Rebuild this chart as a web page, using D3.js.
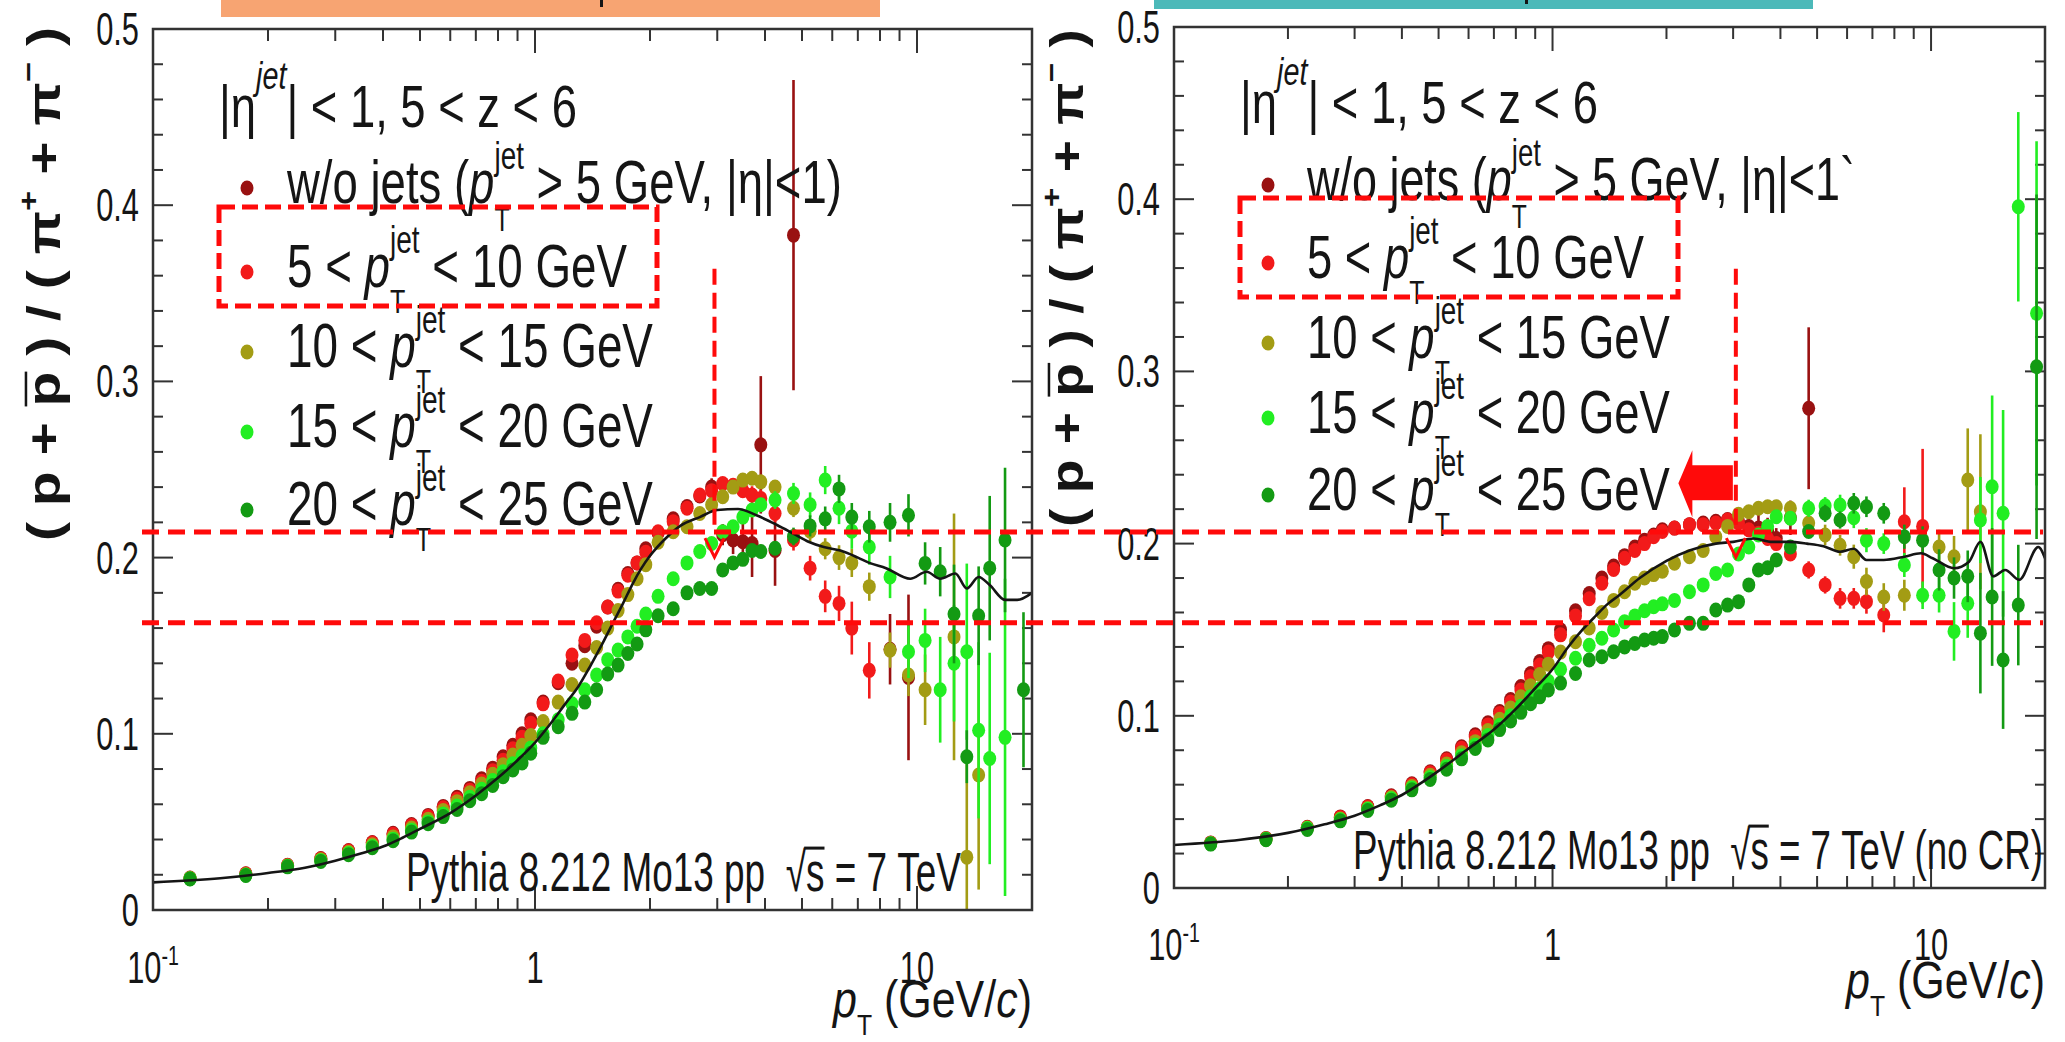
<!DOCTYPE html>
<html>
<head>
<meta charset="utf-8">
<script src="https://cdn.jsdelivr.net/npm/d3@7"></script>
<style>
  html, body { margin: 0; padding: 0; background: #fff; }
  svg { display: block; }
</style>
</head>
<body>
<svg id="chart" width="2065" height="1042"></svg>
<script>
// ---------------------------------------------------------------------------
// Proton-to-pion ratio (p + pbar)/(pi+ + pi-) vs pT, in jets, PYTHIA 8.212
// Left: Monash 2013 tune; right: same tune without colour reconnection.
// ---------------------------------------------------------------------------

// pT bin centres (GeV/c), shared by every series
const pT = [0.125,0.175,0.225,0.275,0.325,0.375,0.425,0.475,0.525,0.575,0.625,0.675,0.725,0.775,0.825,0.875,0.925,0.975,
  1.05,1.15,1.25,1.35,1.45,1.55,1.65,1.75,1.85,1.95,
  2.1,2.3,2.5,2.7,2.9,3.1,3.3,3.5,3.7,3.9,
  4.25,4.75,5.25,5.75,6.25,6.75,
  7.5,8.5,9.5,10.5,11.5,12.5,13.5,14.5,15.5,
  17,19];

// ---- Left panel (Mo13) ----
const leftWoJets = [0.0181,0.0206,0.0254,0.0292,0.0338,0.0383,0.0435,0.0485,0.0537,0.0588,0.064,0.069,0.0745,0.0805,0.087,0.0935,0.1,0.108,
  0.118,0.129,0.14,0.15,0.161,0.172,0.182,0.191,0.197,0.205,
  0.214,0.222,0.229,0.235,0.24,0.213,0.21,0.209,0.208,0.264,
  0.204,0.383,null,null,null,null,
  null,0.148,0.132,null,null,null,null,null,null,
  null,null];
const leftWoJetsErr = [0,0,0,0,0,0,0,0,0,0,0,0,0,0,0,0,0,0,
  0,0,0,0,0,0,0,0,0,0,
  0.003,0.003,0.004,0.004,0.005,0.006,0.008,0.012,0.019,0.039,
  0.02,0.088,0,0,0,0,
  0,0.02,0.047,0,0,0,0,0,0,
  0,0];

const leftJet5 = [0.018,0.0205,0.0252,0.029,0.0335,0.038,0.043,0.048,0.053,0.058,0.063,0.068,0.073,0.079,0.085,0.0915,0.098,0.106,
  0.117,0.13,0.1447,0.153,0.163,0.172,0.181,0.19,0.197,0.203,
  0.2147,0.2204,0.228,0.2355,0.238,0.242,0.241,0.238,0.2355,0.2336,
  0.225,0.21,0.194,0.178,0.174,0.16,
  0.136,null,null,null,null,null,null,null,null,
  null,null];
const leftJet5Err = [0,0,0,0,0,0,0,0,0,0,0,0,0,0,0,0,0,0,
  0,0,0,0,0,0,0,0,0,0,
  0.002,0.003,0.003,0.003,0.003,0.004,0.004,0.004,0.005,0.005,
  0.005,0.006,0.007,0.009,0.01,0.015,
  0.016,0,0,0,0,0,0,0,0,
  0,0];

const leftJet10 = [0.0179,0.02,0.025,0.0285,0.0328,0.037,0.0415,0.0465,0.0515,0.0565,0.0615,0.0665,0.0715,0.077,0.0825,0.088,0.0935,0.099,
  0.107,0.118,0.128,0.139,0.149,0.16,0.17,0.179,0.188,0.196,
  0.2087,0.2147,0.2175,0.225,0.23,0.2345,0.24,0.244,0.245,0.243,
  0.24,0.228,0.215,0.205,0.2,0.197,
  0.1835,0.1475,0.1334,0.125,null,0.155,0.03,0.0766,null,
  null,null];
const leftJet10Err = [0,0,0,0,0,0,0,0,0,0,0,0,0,0,0,0,0,0,
  0,0,0,0,0,0,0,0,0,0,
  0.002,0.002,0.003,0.003,0.003,0.003,0.004,0.004,0.004,0.004,
  0.004,0.005,0.006,0.006,0.007,0.008,
  0.008,0.01,0.012,0.02,0,0.07,0.06,0.065,0,
  0,0];

const leftJet15 = [0.0178,0.0198,0.0248,0.028,0.032,0.036,0.0402,0.0452,0.05,0.0545,0.059,0.064,0.0685,0.0735,0.0785,0.083,0.0875,0.092,
  0.1,0.108,0.117,0.125,0.1334,0.142,0.1475,0.155,0.161,0.168,
  0.178,0.188,0.197,0.2035,0.208,0.2147,0.2175,0.223,0.227,0.23,
  0.2327,0.2364,0.23,0.244,0.228,0.215,
  0.206,0.189,0.1466,0.153,0.125,0.14,0.1466,0.102,0.086,
  0.098,null];
const leftJet15Err = [0,0,0,0,0,0,0,0,0,0,0,0,0,0,0,0,0,0,
  0,0,0,0,0,0,0,0,0,0,
  0.003,0.003,0.003,0.003,0.003,0.003,0.003,0.003,0.004,0.004,
  0.005,0.006,0.007,0.008,0.009,0.01,
  0.01,0.012,0.015,0.018,0.03,0.033,0.05,0.05,0.06,
  0.09,0];

const leftJet20 = [0.0176,0.0196,0.0245,0.0275,0.0314,0.0353,0.0393,0.0442,0.049,0.053,0.057,0.062,0.066,0.0707,0.0756,0.0795,0.0834,0.089,
  0.098,0.104,0.1116,0.118,0.125,0.134,0.139,0.1456,0.151,0.159,
  0.167,0.171,0.18,0.1825,0.1825,0.193,0.197,0.199,0.204,0.2035,
  0.2053,0.212,0.218,0.222,0.239,0.223,
  0.2175,0.22,0.224,0.1967,0.192,0.168,0.087,0.167,0.194,
  0.21,0.125];
const leftJet20Err = [0,0,0,0,0,0,0,0,0,0,0,0,0,0,0,0,0,0,
  0,0,0,0,0,0,0,0,0,0,
  0.003,0.003,0.003,0.003,0.003,0.003,0.003,0.003,0.003,0.003,
  0.004,0.005,0.006,0.007,0.008,0.008,
  0.009,0.011,0.012,0.012,0.014,0.028,0.015,0.028,0.041,
  0.041,0.044];

// inclusive reference curve, left panel
const leftCurvePt = [0.1,0.15,0.2,0.25,0.3,0.35,0.4,0.45,0.5,
  0.6,0.7,0.8,0.9,1.0,1.1,1.2,1.3,1.4,1.5,1.6,1.7,1.8,1.9,2.0,
  2.2,2.4,2.7,3.0,3.4,3.8,4.3,4.8,5.2,5.7,6.3,7.0,7.5,8.3,9.6,10.6,11.5,12.6,13.5,14.5,15.5,17,18.3,20];
const leftCurveVal = [0.0157,0.018,0.021,0.024,0.028,0.032,0.036,0.041,0.046,
  0.055,0.065,0.075,0.085,0.095,0.106,0.117,0.127,0.139,0.151,0.163,0.174,0.185,0.194,0.201,
  0.211,0.218,0.223,0.227,0.2276,0.224,0.2185,0.213,0.209,0.206,0.204,0.2,0.197,0.194,0.188,0.192,0.188,0.191,0.1825,0.189,0.1844,0.176,0.176,0.18];

// ---- Right panel (Mo13, no CR) ----
const rightWoJets = [0.0262,0.0288,0.0353,0.0413,0.0473,0.0535,0.0605,0.0675,0.075,0.082,0.089,0.096,0.1025,0.1095,0.117,0.1245,0.1315,0.139,
  0.15,0.161,0.171,0.18,0.187,0.193,0.198,0.202,0.205,0.208,
  0.209,0.211,0.212,0.213,0.214,0.213,0.21,0.209,0.207,0.203,
  0.215,0.2786,null,null,null,null,
  null,null,null,null,null,null,null,null,null,
  null,null];
const rightWoJetsErr = [0,0,0,0,0,0,0,0,0,0,0,0,0,0,0,0,0,0,
  0,0,0,0,0,0,0,0,0,0,
  0.002,0.002,0.003,0.003,0.004,0.004,0.005,0.008,0.008,0.006,
  0.01,0.047,0,0,0,0,
  0,0,0,0,0,0,0,0,0,
  0,0];

const rightJet5 = [0.026,0.0285,0.035,0.041,0.047,0.053,0.06,0.067,0.0743,0.0811,0.0879,0.0947,0.1014,0.108,0.115,0.1227,0.1295,0.137,
  0.147,0.158,0.168,0.177,0.185,0.1915,0.196,0.2,0.204,0.207,
  0.209,0.211,0.211,0.212,0.2137,0.212,0.208,0.206,0.203,0.2,
  0.194,0.1847,0.176,0.1682,0.1682,0.1663,
  0.1585,0.2127,0.21,null,null,null,null,null,null,
  null,null];
const rightJet5Err = [0,0,0,0,0,0,0,0,0,0,0,0,0,0,0,0,0,0,
  0,0,0,0,0,0,0,0,0,0,
  0.002,0.002,0.003,0.003,0.003,0.003,0.004,0.004,0.004,0.004,
  0.004,0.005,0.005,0.006,0.006,0.007,
  0.01,0.02,0.045,0,0,0,0,0,0,
  0,0];

const rightJet10 = [0.0258,0.0284,0.0348,0.04,0.0462,0.0525,0.059,0.0655,0.072,0.0785,0.085,0.0915,0.098,0.1045,0.111,0.1175,0.124,0.13,
  0.137,0.143,0.151,0.16,0.167,0.172,0.177,0.18,0.182,0.184,
  0.1886,0.1924,0.196,0.204,0.21,0.217,0.2185,0.2205,0.2214,0.2214,
  0.2205,0.212,0.205,0.199,0.1924,0.178,
  0.169,0.17,null,0.198,0.1924,0.2369,0.2185,null,null,
  null,null];
const rightJet10Err = [0,0,0,0,0,0,0,0,0,0,0,0,0,0,0,0,0,0,
  0,0,0,0,0,0,0,0,0,0,
  0.002,0.002,0.003,0.003,0.003,0.003,0.003,0.004,0.004,0.004,
  0.004,0.005,0.006,0.006,0.007,0.008,
  0.008,0.009,0,0.01,0.012,0.03,0.045,0,0,
  0,0];

const rightJet15 = [0.0257,0.0283,0.0345,0.0396,0.0457,0.0518,0.058,0.0642,0.0705,0.0768,0.083,0.0885,0.0945,0.1,0.1055,0.111,0.1155,0.12,
  0.127,0.1334,0.141,0.145,0.1498,0.1546,0.158,0.161,0.1633,0.165,
  0.167,0.172,0.176,0.1827,0.1847,0.194,0.198,0.205,0.21,0.2156,
  0.2147,0.2205,0.222,0.2224,0.215,0.202,
  0.2,0.1876,0.17,0.17,0.149,0.1653,0.2137,0.233,0.2176,
  0.3956,0.3337];
const rightJet15Err = [0,0,0,0,0,0,0,0,0,0,0,0,0,0,0,0,0,0,
  0,0,0,0,0,0,0,0,0,0,
  0.003,0.003,0.003,0.003,0.003,0.003,0.003,0.003,0.003,0.003,
  0.004,0.005,0.005,0.006,0.006,0.007,
  0.006,0.007,0.008,0.01,0.017,0.02,0.025,0.053,0.06,
  0.055,0.1];

const rightJet20 = [0.0255,0.028,0.034,0.039,0.045,0.051,0.057,0.063,0.069,0.075,0.081,0.086,0.092,0.097,0.102,0.107,0.111,0.115,
  0.119,0.1246,0.1324,0.1343,0.1372,0.14,0.142,0.144,0.145,0.146,
  0.1498,0.1537,0.1537,0.1614,0.1643,0.1663,0.176,0.1847,0.186,0.1905,
  0.198,0.207,0.2176,0.2137,0.2234,0.2214,
  0.2176,0.204,0.202,0.1847,0.18,0.181,0.148,0.169,0.1324,
  0.1643,0.3027];
const rightJet20Err = [0,0,0,0,0,0,0,0,0,0,0,0,0,0,0,0,0,0,
  0,0,0,0,0,0,0,0,0,0,
  0.003,0.003,0.003,0.003,0.003,0.003,0.003,0.003,0.003,0.003,
  0.004,0.004,0.005,0.005,0.006,0.006,
  0.006,0.007,0.008,0.012,0.012,0.015,0.035,0.04,0.04,
  0.035,0.1];

// inclusive reference curve, right panel
const rightCurvePt = [0.1,0.15,0.2,0.25,0.3,0.35,0.4,0.45,0.5,
  0.6,0.7,0.8,0.9,1.0,1.1,1.2,1.3,1.4,1.5,
  1.7,2.0,2.3,2.7,3.0,3.4,3.8,4.2,4.7,5.2,5.75,6.25,6.75,7.5,8.5,9.4,10.1,11.5,12.6,13.5,14.6,15.7,17.1,19.2,20];
const rightCurveVal = [0.025,0.028,0.032,0.037,0.042,0.048,0.054,0.061,0.068,
  0.081,0.092,0.104,0.116,0.127,0.14,0.15,0.158,0.165,0.17,
  0.18,0.19,0.196,0.2,0.201,0.203,0.201,0.201,0.2,0.1985,0.1953,0.197,0.1905,0.1905,0.1924,0.1944,0.1915,0.1857,0.1895,0.201,0.181,0.1847,0.179,0.198,0.1915];

// axis ticks / labels
const yTickValues = [0, 0.1, 0.2, 0.3, 0.4, 0.5];
const yTickLabels = ["0", "0.1", "0.2", "0.3", "0.4", "0.5"];
const xTickValues = [0.1, 1, 10];
const xTickBase = ["10", "1", "10"];
const xTickExp = ["-1", "", ""];

// series styling (legend order)
const seriesColors = ["#991111", "#f21a1a", "#a39c14", "#22ee22", "#139a13"];
const legendRanges = [null, ["5", "10"], ["10", "15"], ["15", "20"], ["20", "25"]];

// guide levels (in left-panel units) and marked pT positions
const guideLevels = [0.2145, 0.163];
const guideTop = 0.364;
const markPt = [2.95, 3.05];
const arrowTipPt = 2.15, arrowLevel = 0.235;

// ---------------------------------------------------------------------------
const svg = d3.select('#chart');
const FONT = '"Liberation Sans", Arial, Helvetica, sans-serif';
const INK = '#151515';

function rich(parent, pieces, o) {
  const base = o.size;
  const outer = parent.append('g');
  const inner = outer.append('g');
  let cx = 0;
  const add = (p, atX) => {
    const s = p.size || base;
    const t = inner.append('text')
      .attr('x', atX).attr('y', p.dy || 0)
      .attr('font-size', s)
      .attr('font-family', FONT)
      .attr('font-style', p.it ? 'italic' : null)
      .attr('font-weight', o.bold ? 'bold' : null)
      .attr('fill', o.fill || INK)
      .text(p.t.replace(/ /g, '\u00a0'));
    const w = t.node().getComputedTextLength();
    if (p.over) {
      inner.append('line')
        .attr('x1', atX + (p.overFrom || 0) * s).attr('x2', atX + w + (p.overTo || 0) * s)
        .attr('y1', (p.dy || 0) - p.over * s).attr('y2', (p.dy || 0) - p.over * s)
        .attr('stroke', o.fill || INK).attr('stroke-width', Math.max(1.6, s * 0.055));
    }
    return w;
  };
  pieces.forEach(p => {
    if (p.stack) {
      let m = 0;
      p.stack.forEach(q => { m = Math.max(m, add(q, cx)); });
      cx += m;
    } else {
      cx += add(p, cx);
    }
  });
  const sx = o.width ? o.width / cx : (o.sx || 1);
  const shift = o.anchor === 'end' ? -cx : (o.anchor === 'middle' ? -cx / 2 : 0);
  inner.attr('transform', `scale(${sx},1) translate(${shift},0)`);
  outer.attr('transform', `translate(${o.x},${o.y})` + (o.rotate ? ` rotate(${o.rotate})` : ''));
  return outer;
}

const pjet = (supDy, subDy) => [
  { t: 'p', it: true },
  { stack: [ { t: 'jet', size: 38, dy: supDy }, { t: 'T', size: 34, dy: subDy } ] }
];

const panels = [
  {
    name: 'left', x0: 153, x1: 1032, y0: 29, y1: 910,
    series: [leftWoJets, leftJet5, leftJet10, leftJet15, leftJet20],
    errs: [leftWoJetsErr, leftJet5Err, leftJet10Err, leftJet15Err, leftJet20Err],
    curvePt: leftCurvePt, curveVal: leftCurveVal,
    legend: { x: 219, headerBase: 127, headerW: 358, markX: 247, textX: 287,
              bases: [203, 287, 367, 447, 525], widths: [555, 340, 366, 366, 366],
              woJetsEnd: '|η|<1)' },
    pythia: { x: 406, w: 555, base: 891, tail: '' },
    ytitle: { x: 60, y: 284, len: 514 },
    xtitle: { base: 1017, w: 199 },
    xlabBase: 983,
    box: { x: 221, w: 659, h: 17, color: '#f7a472', markX: 600, markH: 7 }
  },
  {
    name: 'right', x0: 1174, x1: 2045, y0: 27, y1: 888,
    series: [rightWoJets, rightJet5, rightJet10, rightJet15, rightJet20],
    errs: [rightWoJetsErr, rightJet5Err, rightJet10Err, rightJet15Err, rightJet20Err],
    curvePt: rightCurvePt, curveVal: rightCurveVal,
    legend: { x: 1240, headerBase: 123, headerW: 358, markX: 1268, textX: 1307,
              bases: [200, 278, 358, 433, 510], widths: [548, 337, 363, 363, 363],
              woJetsEnd: '|η|<1`' },
    pythia: { x: 1353, w: 690, base: 869, tail: ' (no CR)' },
    ytitle: { x: 1083, y: 278, len: 498 },
    xtitle: { base: 998, w: 199 },
    xlabBase: 960,
    box: { x: 1154, w: 659, h: 9, color: '#4cb9b9', markX: 1525, markH: 4 }
  }
];

panels.forEach(drawPanel);
drawGuides();

function drawPanel(p) {
  const x = d3.scaleLog().domain([0.1, 20]).range([p.x0, p.x1]);
  const y = d3.scaleLinear().domain([0, 0.5]).range([p.y1, p.y0]);
  p.x = x; p.y = y;

  // title band at the very top
  svg.append('rect').attr('x', p.box.x).attr('y', 0).attr('width', p.box.w).attr('height', p.box.h)
    .attr('fill', p.box.color);
  svg.append('rect').attr('x', p.box.markX).attr('y', 0).attr('width', 3).attr('height', p.box.markH)
    .attr('fill', INK);

  const g = svg.append('g');

  // ticks on all four sides
  const ticks = g.append('g').attr('stroke', '#333').attr('stroke-width', 2);
  for (let i = 0; i <= 25; i++) {
    const v = i * 0.02, major = i % 5 === 0, len = major ? 20 : 10, yy = y(v);
    ticks.append('line').attr('x1', p.x0).attr('x2', p.x0 + len).attr('y1', yy).attr('y2', yy);
    ticks.append('line').attr('x1', p.x1).attr('x2', p.x1 - len).attr('y1', yy).attr('y2', yy);
  }
  const xt = [];
  [0.1, 1, 10].forEach(d => { for (let k = 1; k <= 9; k++) { const v = k * d; if (v <= 20) xt.push({ v, major: k === 1 }); } });
  xt.forEach(t => {
    const xx = x(t.v), len = t.major ? 24 : 12;
    ticks.append('line').attr('x1', xx).attr('x2', xx).attr('y1', p.y1).attr('y2', p.y1 - len);
    ticks.append('line').attr('x1', xx).attr('x2', xx).attr('y1', p.y0).attr('y2', p.y0 + len);
  });

  // tick labels
  yTickValues.forEach((v, i) => {
    rich(g, [{ t: yTickLabels[i] }], { x: p.x0 - 14, y: y(v) + 16, size: 46, sx: 0.67, anchor: 'end' });
  });
  xTickValues.forEach((v, i) => {
    const pieces = [{ t: xTickBase[i] }];
    if (xTickExp[i]) pieces.push({ t: xTickExp[i], size: 28, dy: -18 });
    rich(g, pieces, { x: x(v), y: p.xlabBase, size: 44, sx: 0.7, anchor: 'middle' });
  });

  // axis titles
  rich(g, [{ t: 'p', it: true }, { t: 'T', size: 30, dy: 18 }, { t: ' (GeV/' }, { t: 'c', it: true }, { t: ')' }],
       { x: p.x1, y: p.xtitle.base, size: 52, width: p.xtitle.w, anchor: 'end' });
  rich(g, [{ t: '( ' }, { t: 'p' }, { t: ' + ' }, { t: 'p', over: 0.74 }, { t: ' ) / ( ' }, { t: 'π' },
           { t: '+', size: 28, dy: -22 }, { t: ' + ' }, { t: 'π' }, { t: '−', size: 28, dy: -22 }, { t: ' )' }],
       { x: p.ytitle.x, y: p.ytitle.y, size: 46, bold: true, rotate: -90, anchor: 'middle', width: p.ytitle.len });

  // data
  const clipId = 'clip-' + p.name;
  svg.append('clipPath').attr('id', clipId).append('rect')
    .attr('x', p.x0).attr('y', p.y0).attr('width', p.x1 - p.x0).attr('height', p.y1 - p.y0);
  const data = g.append('g').attr('clip-path', `url(#${clipId})`);
  p.series.forEach((vals, si) => {
    const errs = p.errs[si];
    const pts = pT.map((v, i) => ({ pt: v, val: vals[i], err: errs[i] })).filter(d => d.val != null);
    const sg = data.append('g');
    sg.selectAll('line').data(pts.filter(d => d.err > 0.004)).join('line')
      .attr('x1', d => x(d.pt)).attr('x2', d => x(d.pt))
      .attr('y1', d => y(d.val - d.err)).attr('y2', d => y(d.val + d.err))
      .attr('stroke', seriesColors[si]).attr('stroke-width', 2.6);
    sg.selectAll('ellipse').data(pts).join('ellipse')
      .attr('cx', d => x(d.pt)).attr('cy', d => y(d.val))
      .attr('rx', 6.5).attr('ry', 7.5).attr('fill', seriesColors[si]);
  });
  const curve = p.curvePt.map((v, i) => [v, p.curveVal[i]]);
  data.append('path').datum(curve)
    .attr('d', d3.line().x(d => x(d[0])).y(d => y(d[1])).curve(d3.curveMonotoneX))
    .attr('fill', 'none').attr('stroke', INK).attr('stroke-width', 2.6);

  // frame
  g.append('rect').attr('x', p.x0).attr('y', p.y0).attr('width', p.x1 - p.x0).attr('height', p.y1 - p.y0)
    .attr('fill', 'none').attr('stroke', '#333').attr('stroke-width', 2.5);

  // header + legend
  const L = p.legend;
  rich(g, [{ t: '|η' }, { t: 'jet', size: 38, dy: -38, it: true }, { t: '| < 1, 5 < z < 6' }],
       { x: L.x, y: L.headerBase, size: 60, width: L.headerW });
  legendRanges.forEach((r, i) => {
    const pieces = r == null
      ? [{ t: 'w/o jets (' }, ...pjet(-34, 28), { t: ' > 5 GeV, ' + L.woJetsEnd }]
      : [{ t: r[0] + ' < ' }, ...pjet(-34, 26), { t: ' < ' + r[1] + ' GeV' }];
    rich(g, pieces, { x: L.textX, y: L.bases[i], size: 62, width: L.widths[i] });
    g.append('ellipse').attr('cx', L.markX).attr('cy', L.bases[i] - 15).attr('rx', 6.5).attr('ry', 7.5)
      .attr('fill', seriesColors[i]);
  });

  // generator label
  rich(g, [{ t: 'Pythia 8.212 Mo13 pp  ' }, { t: '√' }, { t: 's', over: 0.78, overFrom: -0.05 },
           { t: ' = 7 TeV' + p.pythia.tail }],
       { x: p.pythia.x, y: p.pythia.base, size: 55, width: p.pythia.w });
}

function drawGuides() {
  const L = panels[0], R = panels[1];
  const ann = svg.append('g');
  const red = '#ff0a0a';

  // horizontal guide lines across both panels
  guideLevels.forEach(v => {
    const yy = L.y(v);
    ann.append('line').attr('x1', L.x0 - 11).attr('x2', R.x1 - 2).attr('y1', yy).attr('y2', yy)
      .attr('stroke', red).attr('stroke-width', 5).attr('stroke-dasharray', '17 9');
  });

  // dashed boxes around the 5-10 GeV legend entry
  panels.forEach(p => {
    const b = p.legend.bases[1];
    ann.append('rect').attr('x', p.legend.x).attr('y', b - 80).attr('width', 438).attr('height', 99)
      .attr('fill', 'none').attr('stroke', red).attr('stroke-width', 5).attr('stroke-dasharray', '16 7');
  });

  // vertical markers with open arrow heads
  panels.forEach((p, i) => {
    const xx = p.x(markPt[i]);
    const yTop = L.y(guideTop);
    const yEnd = L.y(guideLevels[0]);
    ann.append('line').attr('x1', xx).attr('x2', xx).attr('y1', yTop).attr('y2', yEnd)
      .attr('stroke', red).attr('stroke-width', 4).attr('stroke-dasharray', '16 8');
    ann.append('path')
      .attr('d', `M${xx - 9.5},${yEnd + 6} L${xx},${yEnd + 25} L${xx + 9.5},${yEnd + 6}`)
      .attr('fill', 'none').attr('stroke', red).attr('stroke-width', 3);
  });

  // block arrow pointing at the 20-25 GeV entry (right panel)
  const tipX = R.x(arrowTipPt), tipY = R.y(arrowLevel);
  const tailX = R.x(markPt[1]) - 3;
  const headX = tipX + 14;
  ann.append('path')
    .attr('d', `M${tipX},${tipY} L${headX},${tipY - 33} L${headX},${tipY - 18} L${tailX},${tipY - 18}` +
               ` L${tailX},${tipY + 17} L${headX},${tipY + 17} L${headX},${tipY + 34} Z`)
    .attr('fill', red);
}
</script>
</body>
</html>
